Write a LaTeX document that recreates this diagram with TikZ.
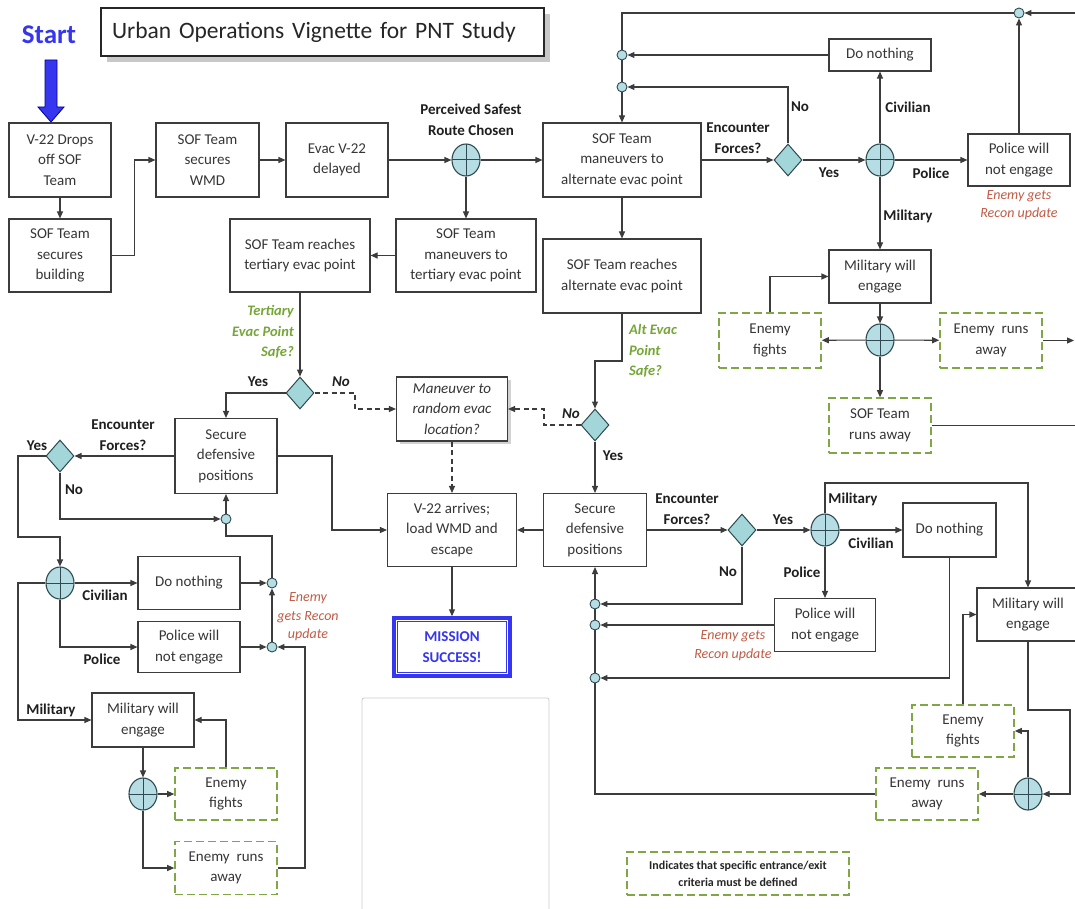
\documentclass[tikz,border=0pt]{standalone}
\usepackage{fontspec}
\setmainfont{Carlito}
\usetikzlibrary{arrows.meta,shapes.geometric,shadows}
\definecolor{boxline}{HTML}{3C3C3C}
\definecolor{boxtext}{HTML}{363636}
\definecolor{jfill}{HTML}{B7DDE4}
\definecolor{jline}{HTML}{2E4A50}
\definecolor{dfill}{HTML}{A3D6D9}
\definecolor{dgreen}{HTML}{80A645}
\definecolor{lgreen}{HTML}{76A637}
\definecolor{redtext}{HTML}{C25B45}
\definecolor{msblue}{HTML}{3636EE}
\newcommand\lblfont{\bfseries\fontsize{15}{21}\selectfont}
\begin{document}
\begin{tikzpicture}[x=1pt,y=-1pt,
  sz/.style 2 args={minimum width=#1pt, minimum height=#2pt},
  pbox/.style={draw=boxline, line width=1.1pt, fill=white, text=boxtext, align=center, inner sep=0pt, font=\fontsize{15}{20.5}\selectfont},
  dbox/.style={pbox, draw=dgreen, line width=1.6pt, dash pattern=on 8pt off 4pt},
  junc/.style={ellipse, draw=jline, line width=1.1pt, fill=jfill, minimum width=28pt, minimum height=32pt, inner sep=0pt,
    path picture={\draw[jline, line width=1pt] (path picture bounding box.north) -- (path picture bounding box.south) (path picture bounding box.west) -- (path picture bounding box.east);}},
  dia/.style={diamond, draw=jline, line width=1pt, fill=dfill, minimum width=28pt, minimum height=32pt, inner sep=0pt},
  sdot/.style={circle, draw=jline, line width=0.9pt, fill=jfill, minimum size=10pt, inner sep=0pt},
  lbl/.style={font=\lblfont, text=black!88, align=center, inner sep=0pt},
  grn/.style={font=\bfseries\itshape\fontsize{14.5}{20.5}\selectfont, text=lgreen, inner sep=0pt},
  red/.style={font=\itshape\fontsize{14}{18.5}\selectfont, text=redtext, align=center, inner sep=0pt},
  wire/.style={draw=boxline, line width=1.1pt},
  conn/.style={wire, -{Triangle[length=7pt,width=6pt]}},
  dconn/.style={conn, dash pattern=on 5pt off 3.5pt}
]
\clip (0,0) rectangle (1075,909);
\fill[white] (0,0) rectangle (1075,909);

% title and start
\node[draw=black!85, line width=1.2pt, fill=white, minimum height=48pt, text width=421pt, align=left, inner xsep=11pt,
  drop shadow={shadow xshift=6pt, shadow yshift=-6pt, fill=black!30, opacity=0.7},
  font=\fontsize{23.5}{27}\selectfont, text=black!85] (title) at (322.5,32) {Urban Operations Vignette for PNT Study};
\node[font=\bfseries\fontsize{27}{30}\selectfont, text=msblue, inner sep=0pt] (start) at (49,35) {Start};
\fill[msblue, draw=blue!60!black, line width=0.8pt] (45,60) -- (57,60) -- (57,107) -- (64,107) -- (51,122) -- (38,107) -- (45,107) -- cycle;

% blank grey panel
\node[draw=black!20, line width=0.8pt, rounded corners=2pt, sz={187}{230}] (blank) at (455.5,813) {};

% boxes
\node[pbox, sz={102}{74}] (A) at (60,160) {V-22 Drops\\off SOF\\Team};
\node[pbox, sz={102}{73}] (B) at (60,255.5) {SOF Team\\secures\\building};
\node[pbox, sz={103}{74}] (C) at (207.5,160) {SOF Team\\secures\\WMD};
\node[pbox, sz={102}{74}] (D) at (337,160) {Evac V-22\\delayed};
\node[pbox, sz={158}{74}] (E) at (622,160) {SOF Team\\maneuvers to\\alternate evac point};
\node[pbox, sz={140}{73}] (F) at (466,255.5) {SOF Team\\maneuvers to\\tertiary evac point};
\node[pbox, sz={140}{73}] (G) at (300,255.5) {SOF Team reaches\\tertiary evac point};
\node[pbox, sz={158}{74}] (H) at (622,276) {SOF Team reaches\\alternate evac point};
\node[pbox, sz={102}{32}] (DNt) at (880,55) {Do nothing};
\node[pbox, sz={102}{52}] (Pt) at (1019,160) {Police will\\not engage};
\node[pbox, sz={102}{53}] (M1) at (880,276.5) {Military will\\engage};
\node[dbox, sz={102}{55}] (EF1) at (770,340.5) {Enemy\\fights};
\node[dbox, sz={102}{55}] (ER1) at (991,340.5) {Enemy~ runs\\away};
\node[dbox, sz={102}{55}] (SR) at (880,425.5) {SOF Team\\runs away};
\node[pbox, sz={111}{64}, drop shadow={shadow xshift=3pt, shadow yshift=-3pt, fill=black!35}, font=\itshape\fontsize{15}{20.5}\selectfont] (MR) at (452,409) {Maneuver to\\random evac\\location?};
\node[pbox, sz={129}{73}] (VA) at (452,530) {V-22 arrives;\\load WMD and\\escape};
\node[draw=msblue, line width=3.5pt, fill=white, sz={116}{58}, align=center, text=msblue, font=\bfseries\fontsize{15}{21}\selectfont, inner sep=0pt] (MS) at (452,647) {MISSION\\SUCCESS!};
\draw[msblue, line width=1.2pt] ([shift={(5,5)}]MS.north west) rectangle ([shift={(-5,-5)}]MS.south east);
\node[pbox, sz={102}{75}] (S1) at (226,456) {Secure\\defensive\\positions};
\node[pbox, sz={103}{73}] (S2) at (595,530) {Secure\\defensive\\positions};
\node[pbox, sz={102}{53}] (DN1) at (189,583) {Do nothing};
\node[pbox, sz={102}{51}] (P1) at (189,647) {Police will\\not engage};
\node[pbox, sz={102}{54}] (M3) at (143,720) {Military will\\engage};
\node[dbox, sz={102}{52}] (EF2) at (226,794) {Enemy\\fights};
\node[dbox, sz={102}{53}] (ER2) at (226,868) {Enemy~ runs\\away};
\node[pbox, sz={93}{54}] (DN2) at (949.5,530) {Do nothing};
\node[pbox, sz={101}{53}] (P2) at (825,625) {Police will\\not engage};
\node[pbox, sz={102}{53}] (M2) at (1028,614.5) {Military will\\engage};
\node[dbox, sz={102}{52}] (EF3) at (963,731) {Enemy\\fights};
\node[dbox, sz={102}{52}] (ER3) at (927,794) {Enemy~ runs\\away};
\node[dbox, sz={222}{43}, text=black!85, font=\bfseries\fontsize{12}{17}\selectfont] (legend) at (738,873.5) {Indicates that specific entrance/exit\\criteria must be defined};

% junctions, decisions, dots
\node[junc] (J1) at (466,160) {};
\node[junc] (J2) at (880,160) {};
\node[junc] (J3) at (880,340) {};
\node[junc] (J4) at (825,530) {};
\node[junc] (J5) at (1028,794) {};
\node[junc] (J6) at (143,794) {};
\node[junc] (J7) at (60,583) {};
\node[dia] (K1) at (788,160) {};
\node[dia] (K2) at (595,425) {};
\node[dia] (K3) at (742,530) {};
\node[dia] (K4) at (60,456) {};
\node[dia] (K5) at (300,393) {};
\node[sdot] (c1) at (1019,13) {};
\node[sdot] (c2) at (622,55) {};
\node[sdot] (c3) at (622,87) {};
\node[sdot] (c4) at (226,519) {};
\node[sdot] (c5) at (272,583) {};
\node[sdot] (c6) at (272,647) {};
\node[sdot] (c7) at (595,604) {};
\node[sdot] (c8) at (595,625) {};
\node[sdot] (c9) at (595,678) {};
\coordinate (rtop) at (1080,13);
\coordinate (rer) at (1074,340.5);
\coordinate (rsr) at (1080,425.5);

% connectors: top row
\draw[conn] (A) -- (B);
\draw[conn] (B.east) -- ++(23,0) |- (C.west);
\draw[conn] (C) -- (D);
\draw[conn] (D) -- (J1);
\draw[conn] (J1) -- (E);
\draw[conn] (J1) -- (F);
\draw[conn] (F) -- (G);
\draw[conn] (G) -- (K5);
\draw[conn] (K5.west) -| (S1.north);
\draw[dconn] (K5.east) -- (355,393) |- (MR.west);
\draw[dconn] (MR) -- (VA);
% left cluster
\draw[conn] (S1.west) -- (K4.east);
\draw[conn] (K4.west) -| (18,537) -| (J7.north);
\draw[conn] (K4.south) |- (c4.west);
\draw[conn] (c4) -- (S1);
\draw[conn] (J7) -- (DN1);
\draw[conn] (J7.south) |- (P1.west);
\draw[conn] (J7.west) -- (18,583) |- (M3.west);
\draw[conn] (DN1) -- (c5);
\draw[conn] (P1) -- (c6);
\draw[conn] (c6) -- (c5);
\draw[wire] (c5.north) -- (272,536) -| (c4.south);
\draw[conn] (M3) -- (J6);
\draw[conn] (J6) -- (EF2);
\draw[conn] (J6.south) |- (ER2.west);
\draw[conn] (EF2.north) |- (M3.east);
\draw[conn] (ER2.east) -- (305,868) |- (c6.east);
\draw[conn] (S1.east) -- (332,456) |- (VA.west);
\draw[conn] (VA) -- (MS);
% top right
\draw[conn] (E) -- (K1);
\draw[conn] (K1) -- (J2);
\draw[conn] (K1.north) |- (c3.east);
\draw[conn] (J2) -- (DNt);
\draw[conn] (DNt) -- (c2);
\draw[conn] (J2) -- (Pt);
\draw[conn] (Pt) -- (c1);
\draw[conn] (rtop) -- (c1);
\draw[wire] (c1.west) -| (c2.north);
\draw[wire] (c2) -- (c3);
\draw[conn] (c3) -- (E);
\draw[conn] (J2) -- (M1);
\draw[conn] (M1) -- (J3);
\draw[conn] (J3) -- (EF1);
\draw[conn] (J3) -- (ER1);
\draw[conn] (J3) -- (SR);
\draw[conn] (EF1.north) |- (M1.west);
\draw[conn] (ER1) -- (rer);
\draw[wire] (SR.east) -- (rsr);
% middle right
\draw[conn] (E) -- (H);
\draw[conn] (H.south) -- (622,361) -| (K2.north);
\draw[dconn] (K2.west) -- (544,425) |- (MR.east);
\draw[conn] (K2) -- (S2);
\draw[conn] (S2) -- (VA);
\draw[conn] (S2) -- (K3);
\draw[conn] (K3) -- (J4);
\draw[conn] (J4) -- (DN2);
\draw[conn] (J4.north) -- (825,483) -| (M2.north);
\draw[conn] (J4) -- (P2);
\draw[conn] (K3.south) |- (c7.east);
\draw[conn] (P2.west) -- (c8.east);
\draw[conn] (DN2.south) |- (c9.east);
\draw[wire] (ER3.west) -| (c9.south);
\draw[wire] (c9) -- (c8);
\draw[wire] (c8) -- (c7);
\draw[conn] (c7) -- (S2);
\draw[conn] (M2.south) -- (1028,710) -- (1070,710) |- (J5.east);
\draw[conn] (J5) -- (ER3);
\draw[conn] (J5.north) |- (EF3.east);
\draw[conn] (EF3.north) |- (M2.west);

% labels
\node[lbl] (lpsr) at (471,120) {Perceived Safest\\Route Chosen};
\node[lbl] (lyes5) at (258,382) {Yes};
\node[lbl, font=\bfseries\itshape\fontsize{15}{21}\selectfont] (lno5) at (341,382) {No};
\node[grn, anchor=east, align=right] (lter) at (294,332) {Tertiary\\Evac Point\\Safe?};
\node[lbl] (lenc4) at (123,435) {Encounter\\Forces?};
\node[lbl] (lyes4) at (37,446) {Yes};
\node[lbl] (lno4) at (74,490) {No};
\node[lbl] (lciv7) at (105,595) {Civilian};
\node[lbl] (lpol7) at (102,659) {Police};
\node[lbl] (lmil7) at (51,710) {Military};
\node[red] (lred1) at (308,617) {Enemy\\gets Recon\\update};
\node[lbl] (lenc1) at (738,138.5) {Encounter\\Forces?};
\node[lbl] (lno1) at (800,107) {No};
\node[lbl] (lyes1) at (829,173) {Yes};
\node[lbl] (lciv2) at (908,107) {Civilian};
\node[lbl] (lpol2) at (931,173) {Police};
\node[lbl] (lmil2) at (908,216) {Military};
\node[red] (lred2) at (1019,205) {Enemy gets\\Recon update};
\node[grn, anchor=west, align=left] (lalt) at (629,351) {Alt Evac\\Point\\Safe?};
\node[lbl, font=\bfseries\itshape\fontsize{15}{21}\selectfont] (lno2) at (571,414) {No};
\node[lbl] (lyes2) at (613,456) {Yes};
\node[lbl] (lenc3) at (687,509.5) {Encounter\\Forces?};
\node[lbl] (lyes3) at (783,520) {Yes};
\node[lbl] (lmil4) at (853,499) {Military};
\node[lbl] (lciv4) at (871,543) {Civilian};
\node[lbl] (lno3) at (728,572) {No};
\node[lbl] (lpol4) at (802,572) {Police};
\node[red] (lred3) at (733,645.5) {Enemy gets\\Recon update};
\end{tikzpicture}
\end{document}
